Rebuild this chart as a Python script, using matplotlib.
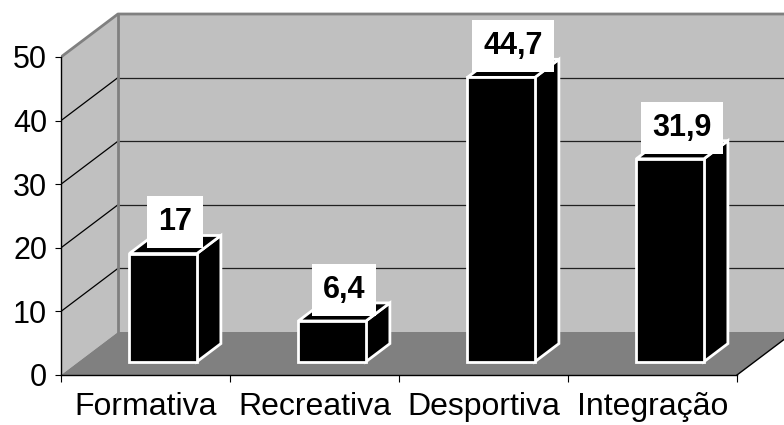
import matplotlib.pyplot as plt
from matplotlib.patches import Polygon

categorias = ['Formativa', 'Recreativa', 'Desportiva', 'Integração']
valores = [17, 6.4, 44.7, 31.9]
rotulos = ['17', '6,4', '44,7', '31,9']
yticks = [0, 10, 20, 30, 40, 50]

plt.rcParams['font.family'] = ['Liberation Sans', 'DejaVu Sans']

W, H = 784, 425
fig = plt.figure(figsize=(W / 100, H / 100), dpi=100)
ax = fig.add_axes([61 / W, 50 / H, (W - 61) / W, 375 / H])
ax.set_xlim(0, (W - 61) / 169)
ax.set_ylim(0, 375 / 6.36)
ax.patch.set_visible(False)

# deslocamento da profundidade (projeção oblíqua)
ox, oy = 0.337, 6.76
n = len(categorias)
ymax = yticks[-1]


def p(x, y, d):
    return (x + ox * d, y + oy * d)


# paredes e chão
ax.add_patch(Polygon([p(0, 0, 1), p(n, 0, 1), p(n, ymax, 1), p(0, ymax, 1)],
                     fc='#c0c0c0', ec='none', zorder=0))
ax.add_patch(Polygon([p(0, 0, 0), p(0, 0, 1), p(0, ymax, 1), p(0, ymax, 0)],
                     fc='#c0c0c0', ec='none', zorder=0))
ax.add_patch(Polygon([p(0, 0, 0), p(n, 0, 0), p(n, 0, 1), p(0, 0, 1)],
                     fc='#808080', ec='none', zorder=0.5))

# grelha
for v in yticks[1:-1]:
    ax.plot(*zip(p(0, v, 1), p(n, v, 1)), color='#202020', lw=0.9, zorder=1)
    ax.plot(*zip(p(0, v, 0), p(0, v, 1)), color='black', lw=0.9, zorder=1)

# bordas das paredes
ax.plot(*zip(p(0, ymax, 0), p(0, ymax, 1), p(n, ymax, 1)), color='#808080', lw=2, zorder=1.2)
ax.plot(*zip(p(0, 0, 1), p(0, ymax, 1)), color='#808080', lw=2, zorder=1.2)
ax.plot(*zip(p(n, 0, 0), p(n, 0, 1)), color='black', lw=1, zorder=1.2)

# barras
w, d0, d1 = 0.4, 0.31, 0.73
for i, (v, r) in enumerate(zip(valores, rotulos)):
    x0, x1 = i + 0.5 - w / 2, i + 0.5 + w / 2
    faces = [
        [p(x1, 0, d0), p(x1, 0, d1), p(x1, v, d1), p(x1, v, d0)],
        [p(x0, v, d0), p(x1, v, d0), p(x1, v, d1), p(x0, v, d1)],
        [p(x0, 0, d0), p(x1, 0, d0), p(x1, v, d0), p(x0, v, d0)],
    ]
    for f in faces:
        ax.add_patch(Polygon(f, fc='black', ec='white', lw=2, joinstyle='miter', zorder=3))
    ax.annotate(r, xy=p(i + 0.5, v, (d0 + d1) / 2), xytext=(0, 16),
                textcoords='offset points', ha='center', va='center',
                fontsize=22, fontweight='bold', zorder=5,
                bbox=dict(boxstyle='square,pad=0.36', fc='white', ec='none'))

# eixos
for s in ['top', 'right']:
    ax.spines[s].set_visible(False)
ax.spines['left'].set_bounds(0, ymax)
ax.spines['bottom'].set_bounds(0, n)
ax.spines['left'].set_linewidth(1)
ax.spines['bottom'].set_linewidth(1)
ax.set_yticks(yticks)
ax.tick_params(axis='y', direction='out', length=4, labelsize=22, pad=6)
ax.set_xticks(range(n + 1))
ax.set_xticklabels([])
ax.set_xticks([i + 0.5 for i in range(n)], minor=True)
ax.set_xticklabels(categorias, minor=True)
ax.tick_params(axis='x', which='major', direction='out', length=5)
ax.tick_params(axis='x', which='minor', length=0, labelsize=23, pad=12)

fig.savefig('out.png', dpi=100)
